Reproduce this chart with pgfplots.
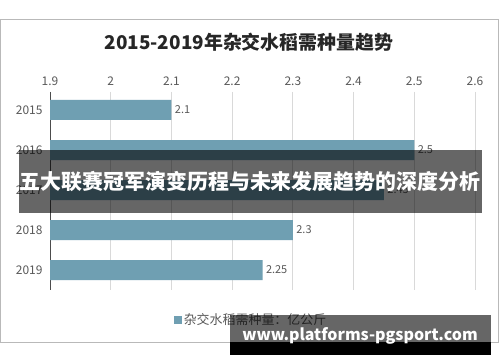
\documentclass[border=0pt]{standalone}
\usepackage{pgfplots}
\pgfplotsset{compat=1.18}
\usepackage{fontspec}
\setmainfont{Noto Sans CJK SC}
\definecolor{barc}{RGB}{111,159,178}
\definecolor{lbl}{RGB}{89,89,89}
\definecolor{gridc}{RGB}{217,217,217}
\begin{document}
\begin{tikzpicture}
\begin{scope}[x=1bp,y=1bp]
\useasboundingbox (0,0) rectangle (500,362);
\fill[white] (0,0) rectangle (500,362);
\draw[gray!55, line width=0.8bp] (0.5,20) rectangle (498.5,343);
\node[font=\fontsize{19}{19}\selectfont\bfseries, text=black!85] at (249,320) {2015-2019年杂交水稻需种量趋势};
\end{scope}
\begin{axis}[
  at={(50bp,72bp)}, anchor=south west, scale only axis,
  width=425bp, height=198bp,
  xmin=1.9, xmax=2.6, ymin=-0.45, ymax=4.5,
  y dir=reverse,
  axis x line*=top, axis y line*=left,
  x axis line style={draw=none},
  y axis line style={draw=black!70, line width=0.8bp},
  xtick={1.9,2,2.1,2.2,2.3,2.4,2.5,2.6},
  ytick={0,1,2,3,4},
  yticklabels={2015,2016,2017,2018,2019},
  major tick length=0pt,
  xmajorgrids, grid style={gridc, line width=0.8bp},
  /pgf/number format/assume math mode=true,
  tick label style={font=\fontsize{12}{12}\selectfont, text=lbl},
  xticklabel style={yshift=3bp},
  yticklabel style={xshift=-4bp},
  legend style={at={(axis description cs:0.473,-0.15)}, anchor=center, draw=none, fill=none,
    font=\fontsize{13}{13}\selectfont, text=lbl},
  legend image code/.code={\fill[barc] (0bp,-4bp) rectangle (8bp,4bp);},
]
\addplot[xbar, fill=barc, draw=none, bar width=20bp,
  nodes near coords, point meta=x,
  nodes near coords style={anchor=west, font=\fontsize{11}{11}\selectfont, text=lbl, /pgf/number format/assume math mode=true}]
  coordinates {(2.1,0) (2.5,1) (2.45,2) (2.3,3) (2.25,4)};
\addlegendentry{杂交水稻需种量：亿公斤}
\end{axis}
\begin{scope}[x=1bp,y=1bp]
\fill[black, opacity=0.6] (19,149) rectangle (482,212);
\node[font=\fontsize{21}{21}\selectfont\bfseries, text=white] at (250,180) {五大联赛冠军演变历程与未来发展趋势的深度分析};
\fill[black, opacity=0.6] (230,20) rectangle (491,47);
\fill[black] (230,7) rectangle (491,20);
\node[font=\fontsize{16}{16}\selectfont\bfseries, text=white] at (360,26) {www.platforms-pgsport.com};
\end{scope}
\end{tikzpicture}
\end{document}
